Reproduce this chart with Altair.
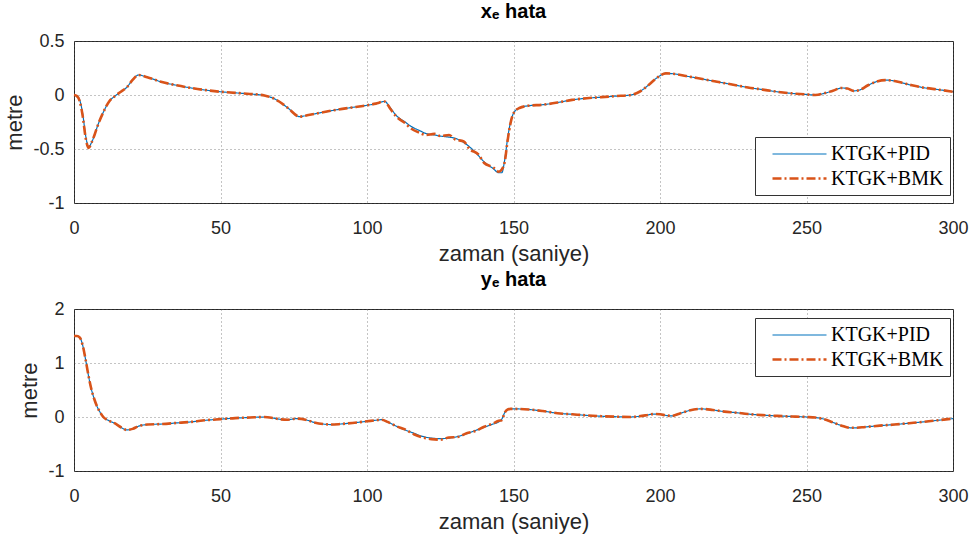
import altair as alt
import pandas as pd

series = ["KTGK+PID", "KTGK+BMK"]
x_ticks = [0, 50, 100, 150, 200, 250, 300]
xe_ticks = [-1, -0.5, 0, 0.5]
ye_ticks = [-1, 0, 1, 2]

t_x = [0, 1, 2, 3, 4, 5, 6, 7, 8, 10, 12, 14, 16, 18, 20, 22, 25, 30, 35, 40, 45, 50, 55, 60, 65, 68,
       70, 73, 77, 80, 85, 90, 95, 100, 103, 106, 108, 110, 113, 115, 118, 120, 123, 125, 128, 130,
       133, 135, 138, 140, 143, 145, 146, 147, 148, 149, 150, 152, 155, 160, 165, 170, 175, 180, 185,
       190, 193, 196, 199, 202, 205, 210, 215, 220, 225, 230, 235, 240, 245, 250, 253, 256, 259, 262,
       264, 266, 268, 271, 274, 277, 280, 283, 286, 290, 295, 300]
xe_pid = [0, -0.01, -0.05, -0.18, -0.38, -0.48, -0.44, -0.37, -0.29, -0.16, -0.06, -0.01, 0.03, 0.07,
          0.14, 0.185, 0.165, 0.12, 0.09, 0.065, 0.045, 0.03, 0.02, 0.01, -0.005, -0.03, -0.06, -0.12,
          -0.2, -0.185, -0.16, -0.135, -0.115, -0.095, -0.08, -0.06, -0.12, -0.19, -0.25, -0.29, -0.33,
          -0.355, -0.37, -0.38, -0.39, -0.4, -0.44, -0.48, -0.56, -0.62, -0.68, -0.72, -0.72, -0.6, -0.4,
          -0.25, -0.17, -0.12, -0.1, -0.09, -0.07, -0.045, -0.03, -0.02, -0.01, 0.0, 0.03, 0.09, 0.16,
          0.2, 0.195, 0.17, 0.145, 0.12, 0.095, 0.07, 0.05, 0.03, 0.015, 0.005, 0.0, 0.015, 0.04, 0.065,
          0.06, 0.038, 0.045, 0.09, 0.125, 0.138, 0.13, 0.11, 0.09, 0.068, 0.05, 0.03]
xe_bmk = [0, -0.01, -0.06, -0.2, -0.4, -0.49, -0.44, -0.37, -0.29, -0.16, -0.06, -0.01, 0.03, 0.07,
          0.14, 0.185, 0.165, 0.12, 0.09, 0.065, 0.045, 0.03, 0.02, 0.01, -0.005, -0.03, -0.06, -0.12,
          -0.2, -0.185, -0.16, -0.135, -0.115, -0.095, -0.08, -0.06, -0.13, -0.2, -0.26, -0.31, -0.35,
          -0.37, -0.36, -0.38, -0.37, -0.41, -0.43, -0.5, -0.55, -0.63, -0.67, -0.71, -0.69, -0.62, -0.42,
          -0.26, -0.17, -0.12, -0.1, -0.09, -0.07, -0.045, -0.03, -0.02, -0.01, 0.0, 0.03, 0.09, 0.16,
          0.2, 0.195, 0.17, 0.145, 0.12, 0.095, 0.07, 0.05, 0.03, 0.015, 0.005, 0.0, 0.015, 0.04, 0.065,
          0.06, 0.038, 0.045, 0.09, 0.125, 0.138, 0.13, 0.11, 0.09, 0.068, 0.05, 0.03]

t_y = [0, 1, 2, 3, 4, 5, 6, 7, 8, 9, 10, 12, 14, 16, 18, 20, 22, 25, 30, 35, 40, 45, 50, 55, 60, 65, 68,
       70, 73, 76, 79, 82, 85, 88, 91, 95, 100, 103, 105, 107, 110, 113, 116, 119, 122, 125, 128, 131,
       134, 137, 140, 143, 145, 146, 147, 148, 149, 150, 155, 160, 165, 170, 175, 180, 185, 190, 195,
       198, 200, 202, 204, 207, 210, 214, 218, 222, 226, 230, 235, 240, 245, 250, 253, 256, 259, 262,
       265, 267, 270, 275, 280, 285, 290, 295, 300]
ye_pid = [1.5, 1.5, 1.47, 1.32, 1.05, 0.75, 0.5, 0.32, 0.18, 0.08, 0.0, -0.07, -0.12, -0.19, -0.24,
          -0.22, -0.17, -0.14, -0.13, -0.11, -0.09, -0.06, -0.04, -0.02, -0.01, 0.0, -0.02, -0.04, -0.05,
          -0.03, -0.05, -0.1, -0.13, -0.14, -0.13, -0.11, -0.08, -0.06, -0.05, -0.09, -0.17, -0.24, -0.3,
          -0.36, -0.39, -0.4, -0.39, -0.36, -0.31, -0.25, -0.19, -0.13, -0.09, -0.04, 0.08, 0.14, 0.15,
          0.15, 0.14, 0.11, 0.07, 0.05, 0.03, 0.015, 0.005, 0.0, 0.03, 0.055, 0.05, 0.03, 0.02, 0.07,
          0.12, 0.15, 0.13, 0.1, 0.08, 0.055, 0.035, 0.02, 0.01, 0.0, -0.01, -0.04, -0.1, -0.16, -0.2,
          -0.2, -0.185, -0.16, -0.14, -0.115, -0.09, -0.06, -0.03]
ye_bmk = [1.5, 1.5, 1.47, 1.32, 1.05, 0.75, 0.5, 0.32, 0.18, 0.08, 0.0, -0.07, -0.12, -0.19, -0.24,
          -0.22, -0.17, -0.14, -0.13, -0.11, -0.09, -0.06, -0.04, -0.02, -0.01, 0.0, -0.02, -0.04, -0.05,
          -0.03, -0.05, -0.1, -0.13, -0.14, -0.13, -0.11, -0.08, -0.06, -0.05, -0.09, -0.17, -0.23, -0.32,
          -0.38, -0.41, -0.42, -0.38, -0.37, -0.3, -0.26, -0.18, -0.12, -0.07, -0.06, 0.08, 0.14, 0.15,
          0.15, 0.14, 0.11, 0.07, 0.05, 0.03, 0.015, 0.005, 0.0, 0.03, 0.055, 0.05, 0.03, 0.02, 0.07,
          0.12, 0.15, 0.13, 0.1, 0.08, 0.055, 0.035, 0.02, 0.01, 0.0, -0.01, -0.04, -0.1, -0.16, -0.2,
          -0.2, -0.185, -0.16, -0.14, -0.115, -0.09, -0.06, -0.03]

FONT = "Liberation Sans"


def panel(t, pid, bmk, title, yticks, ydomain, legend_y):
    df = pd.DataFrame({
        "t": list(t) + list(t),
        "v": list(pid) + list(bmk),
        "s": [series[0]] * len(t) + [series[1]] * len(t),
        "o": [0] * len(t) + [1] * len(t),
    })
    leg = alt.Legend(
        title=None, orient="none", legendX=681, legendY=legend_y,
        symbolType="M0,0H5.4", symbolSize=400, symbolStrokeWidth=2,
        labelFont="Liberation Serif", labelFontSize=20, labelColor="#000000",
        labelOffset=47, padding=6, rowPadding=3,
        fillColor="#ffffff", strokeColor="#333333",
    )
    return alt.Chart(df, title=alt.Title(title, fontSize=20, fontWeight="bold", font=FONT,
                                          color="#000000", offset=10)).mark_line(
        interpolate="monotone"
    ).encode(
        x=alt.X("t:Q", scale=alt.Scale(domain=[0, 300], nice=False),
                axis=alt.Axis(values=x_ticks, title="zaman (saniye)", labelPadding=16, labelFlush=False)),
        y=alt.Y("v:Q", scale=alt.Scale(domain=ydomain, nice=False),
                axis=alt.Axis(values=yticks, title="metre", labelExpr="datum.value + ''", labelFlush=False)),
        color=alt.Color("s:N", scale=alt.Scale(domain=series, range=["#0072BD", "#D95319"]), legend=leg),
        strokeDash=alt.StrokeDash("s:N", scale=alt.Scale(domain=series, range=[[1, 0], [9, 3, 2, 3]]), legend=leg),
        strokeWidth=alt.StrokeWidth("s:N", scale=alt.Scale(domain=series, range=[1.2, 2.6]), legend=leg),
        order=alt.Order("o:Q"),
    ).properties(width=879, height=162)


top = panel(t_x, xe_pid, xe_bmk, "xₑ hata", xe_ticks, [-1, 0.5], 96)
bottom = panel(t_y, ye_pid, ye_bmk, "yₑ hata", ye_ticks, [-1, 2], 9)

chart = alt.vconcat(top, bottom, spacing=4).resolve_scale(
    color="independent", strokeDash="independent", strokeWidth="independent"
).resolve_legend(
    color="independent", strokeDash="independent", strokeWidth="independent"
).configure_view(
    stroke="#262626", strokeWidth=1
).configure_axis(
    grid=True, gridColor="#555555", gridDash=[1, 3], gridOpacity=0.7, gridWidth=1,
    ticks=False, labelPadding=10, domain=False,
    labelFont=FONT, labelFontSize=18, labelColor="#262626",
    titleFont=FONT, titleFontSize=22, titleFontWeight="normal", titleColor="#262626",
).configure_axisY(titlePadding=6).configure_axisX(titlePadding=6).properties(
    padding={"left": 3, "top": 1, "right": 1, "bottom": 5}, background="#ffffff"
)

chart.save("out.html", embed_options={"renderer": "svg", "actions": False})
